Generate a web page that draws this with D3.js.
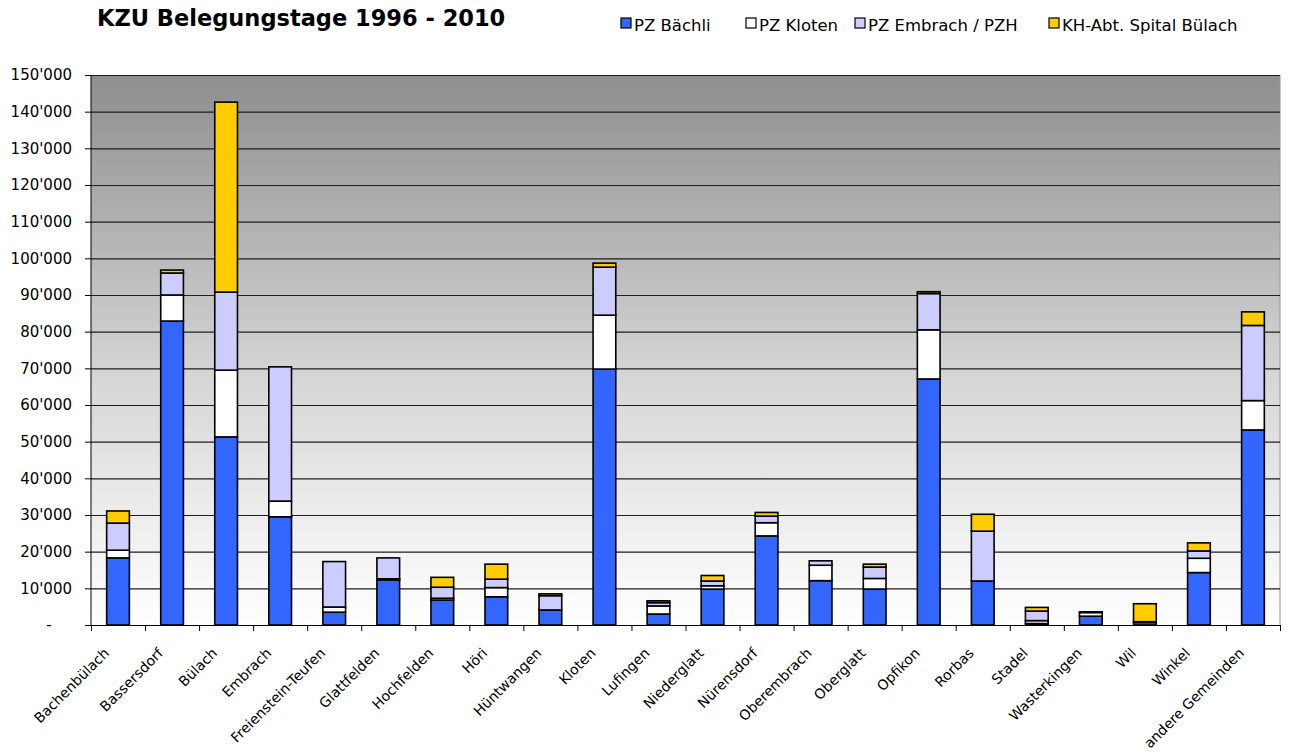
<!DOCTYPE html>
<meta charset="utf-8">
<script src="https://d3js.org/d3.v7.min.js"></script>
<style>
body { margin: 0; background: #fff; }
text { font-family: "DejaVu Sans", "Open Sans", sans-serif; fill: #000; }
.axis path, .axis line { stroke: #000; }
.title { font-size: 22.5px; font-weight: bold; }
.legend text { font-size: 16.5px; }
.yaxis text { font-size: 15px; }
.xaxis text { font-size: 14px; }
</style>
<body>
<script>

// categories (Gemeinden)
var gemeinden = ['Bachenbülach', 'Bassersdorf', 'Bülach', 'Embrach', 'Freienstein-Teufen', 'Glattfelden',
  'Hochfelden', 'Höri', 'Hüntwangen', 'Kloten', 'Lufingen', 'Niederglatt', 'Nürensdorf', 'Oberembrach',
  'Oberglatt', 'Opfikon', 'Rorbas', 'Stadel', 'Wasterkingen', 'Wil', 'Winkel', 'andere Gemeinden'];

// series
var pzBaechli  = [18300, 82900, 51300, 29500, 3500, 12300, 6800, 7700, 4100, 69800, 3000, 9800, 24300, 12100, 9800, 67100, 12000, 400, 2400, 700, 14300, 53200];
var pzKloten   = [2100, 7100, 18200, 4300, 1400, 300, 500, 2500, 0, 14700, 2200, 900, 3600, 4200, 2900, 13400, 0, 800, 1000, 0, 3900, 8000];
var pzEmbrach  = [7400, 6000, 21300, 36600, 12400, 5700, 3000, 2300, 3900, 13100, 900, 1300, 1800, 1200, 3100, 9900, 13600, 2600, 200, 200, 2000, 20500];
var khBuelach  = [3300, 800, 51800, 0, 0, 0, 2700, 4100, 500, 1100, 500, 1500, 1000, 0, 800, 500, 4600, 1000, 0, 4900, 2200, 3700];

var seriesNames = ['PZ Bächli', 'PZ Kloten', 'PZ Embrach / PZH', 'KH-Abt. Spital Bülach'];
var seriesColors = ['#3366ff', '#ffffff', '#ccccff', '#ffcc00'];
var yTicks = d3.range(0, 150001, 10000);

// build rows for d3.stack
var rows = gemeinden.map(function(g, i) {
  return { name: g, s0: pzBaechli[i], s1: pzKloten[i], s2: pzEmbrach[i], s3: khBuelach[i] };
});

var width = 1292, height = 754;
var plot = { left: 91, right: 1280, top: 75, bottom: 625 };

var svg = d3.select('body').append('svg')
  .attr('width', width)
  .attr('height', height);

// background gradient of the plot area
var grad = svg.append('defs').append('linearGradient')
  .attr('id', 'bg')
  .attr('x1', 0).attr('y1', 0).attr('x2', 0).attr('y2', 1);
grad.append('stop').attr('offset', '0%').attr('stop-color', '#8e8e8e');
grad.append('stop').attr('offset', '55%').attr('stop-color', '#d6d6d6');
grad.append('stop').attr('offset', '100%').attr('stop-color', '#ffffff');

var x = d3.scaleBand()
  .domain(gemeinden)
  .range([plot.left, plot.right])
  .paddingInner(0.58)
  .paddingOuter(0.29);

var y = d3.scaleLinear()
  .domain([0, 150000])
  .range([plot.bottom, plot.top]);

svg.append('rect')
  .attr('x', plot.left)
  .attr('y', plot.top)
  .attr('width', plot.right - plot.left)
  .attr('height', plot.bottom - plot.top)
  .attr('fill', 'url(#bg)');

// right border of plot
svg.append('line')
  .attr('x1', plot.right).attr('x2', plot.right)
  .attr('y1', plot.top).attr('y2', plot.bottom)
  .attr('stroke', '#999');

// gridlines
svg.append('g').selectAll('line')
  .data(yTicks.filter(function(d) { return d > 0; }))
  .enter().append('line')
  .attr('x1', plot.left).attr('x2', plot.right)
  .attr('y1', function(d) { return y(d) + 0.5; })
  .attr('y2', function(d) { return y(d) + 0.5; })
  .attr('stroke', '#1e1e1e')
  .attr('stroke-width', 1.2);

// y axis, swiss thousands separator, zero shown as "-"
var fmt = d3.formatLocale({ decimal: '.', thousands: "'", grouping: [3], currency: ['', ''] }).format(',d');
var yAxis = d3.axisLeft(y)
  .tickValues(yTicks)
  .tickSize(6)
  .tickPadding(13)
  .tickFormat(function(d) { return d === 0 ? '-' : fmt(d); });

var yg = svg.append('g')
  .attr('class', 'axis yaxis')
  .attr('transform', 'translate(' + plot.left + ',0)')
  .call(yAxis);
yg.select('.domain').attr('d', 'M0,' + plot.top + 'V' + plot.bottom);
yg.selectAll('.tick text')
  .filter(function(d) { return d === 0; })
  .attr('text-anchor', 'middle')
  .attr('x', -42);

// stacked bars
var stack = d3.stack().keys(['s0', 's1', 's2', 's3']);
var layers = stack(rows);

svg.append('g').selectAll('g')
  .data(layers)
  .enter().append('g')
  .attr('fill', function(d, i) { return seriesColors[i]; })
  .selectAll('rect')
  .data(function(d) { return d.filter(function(p) { return p[1] - p[0] > 0; }); })
  .enter().append('rect')
  .attr('x', function(d) { return x(d.data.name); })
  .attr('y', function(d) { return y(d[1]); })
  .attr('width', x.bandwidth())
  .attr('height', function(d) { return y(d[0]) - y(d[1]); })
  .attr('stroke', '#000')
  .attr('stroke-width', 1.6);

// x axis: boundary ticks
var xb = d3.scaleLinear().domain([0, gemeinden.length]).range([plot.left, plot.right]);
svg.append('g')
  .attr('class', 'axis')
  .attr('transform', 'translate(0,' + plot.bottom + ')')
  .call(d3.axisBottom(xb).tickValues(d3.range(0, gemeinden.length + 1)).tickSize(6).tickFormat(''));

// x labels rotated
var xAxis = d3.axisBottom(x).tickSize(0).tickPadding(0);
var xg = svg.append('g')
  .attr('class', 'axis xaxis')
  .attr('transform', 'translate(0,' + plot.bottom + ')')
  .call(xAxis);
xg.select('.domain').remove();
xg.selectAll('text')
  .attr('text-anchor', 'end')
  .attr('dy', null)
  .attr('y', 0)
  .attr('transform', 'translate(-8,29) rotate(-45)');

// title
svg.append('text')
  .attr('class', 'title')
  .attr('x', 97)
  .attr('y', 26)
  .text('KZU Belegungstage 1996 - 2010');

// legend
var legendX = [621, 746, 855, 1049];
var legend = svg.append('g').attr('class', 'legend')
  .selectAll('g')
  .data(seriesNames)
  .enter().append('g')
  .attr('transform', function(d, i) { return 'translate(' + legendX[i] + ',18)'; });

legend.append('rect')
  .attr('width', 10).attr('height', 10)
  .attr('fill', function(d, i) { return seriesColors[i]; })
  .attr('stroke', '#000')
  .attr('stroke-width', 1.2);

legend.append('text')
  .attr('x', 13)
  .attr('y', 12.5)
  .text(function(d) { return d; });

</script>
</body>
